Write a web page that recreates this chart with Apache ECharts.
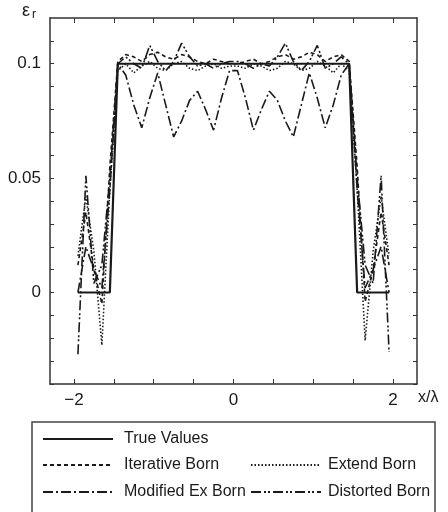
<!DOCTYPE html>
<html lang="en">
<head>
    <meta charset="UTF-8">
    <title>epsilon_r profile</title>
    <script type="text/javascript" src="https://cdn.jsdelivr.net/npm/echarts@6/dist/echarts.min.js"></script>
    <style>
        html, body { margin: 0; padding: 0; background: #fff; }
    </style>
</head>
<body>
<div id="container" style="height:512px;width:448px"></div>
<script>
    // sample positions x/lambda
    var xs = [-1.95, -1.85, -1.75, -1.65, -1.55, -1.45, -1.35, -1.25, -1.15, -1.05,
        -0.95, -0.85, -0.75, -0.65, -0.55, -0.45, -0.35, -0.25, -0.15, -0.05,
        0.05, 0.15, 0.25, 0.35, 0.45, 0.55, 0.65, 0.75, 0.85, 0.95,
        1.05, 1.15, 1.25, 1.35, 1.45, 1.55, 1.65, 1.75, 1.85, 1.95];

    var trueValues = [0, 0, 0, 0, 0, 0.1, 0.1, 0.1, 0.1, 0.1,
        0.1, 0.1, 0.1, 0.1, 0.1, 0.1, 0.1, 0.1, 0.1, 0.1,
        0.1, 0.1, 0.1, 0.1, 0.1, 0.1, 0.1, 0.1, 0.1, 0.1,
        0.1, 0.1, 0.1, 0.1, 0.1, 0, 0, 0, 0, 0];

    var iterativeBorn = [0.012, 0.035, 0.01, -0.005, 0.055, 0.101, 0.104, 0.103, 0.101, 0.104,
        0.105, 0.103, 0.102, 0.104, 0.103, 0.101, 0.1, 0.102, 0.101, 0.1,
        0.1, 0.101, 0.102, 0.1, 0.101, 0.103, 0.104, 0.102, 0.103, 0.105,
        0.104, 0.101, 0.103, 0.104, 0.101, 0.055, -0.004, 0.01, 0.035, 0.012];

    var extendBorn = [0.016, 0.042, 0.018, -0.023, 0.045, 0.097, 0.1, 0.096, 0.099, 0.101,
        0.098, 0.097, 0.1, 0.101, 0.098, 0.097, 0.099, 0.1, 0.098, 0.099,
        0.099, 0.098, 0.1, 0.099, 0.097, 0.098, 0.101, 0.1, 0.097, 0.098,
        0.101, 0.099, 0.096, 0.1, 0.097, 0.045, -0.021, 0.018, 0.042, 0.016];

    var modifiedExBorn = [0.0, 0.02, 0.01, 0.002, 0.045, 0.1, 0.095, 0.082, 0.072, 0.085,
        0.096, 0.082, 0.068, 0.075, 0.084, 0.088, 0.08, 0.071, 0.085, 0.097,
        0.097, 0.085, 0.071, 0.08, 0.088, 0.084, 0.075, 0.068, 0.082, 0.096,
        0.085, 0.072, 0.082, 0.095, 0.1, 0.045, 0.002, 0.01, 0.02, 0.0];

    var distortedBorn = [-0.027, 0.051, 0.004, 0.012, 0.05, 0.1, 0.103, 0.1, 0.098, 0.108,
        0.101, 0.097, 0.101, 0.109, 0.103, 0.099, 0.1, 0.098, 0.1, 0.101,
        0.101, 0.1, 0.098, 0.1, 0.099, 0.103, 0.109, 0.101, 0.097, 0.101,
        0.108, 0.098, 0.1, 0.103, 0.1, 0.05, 0.012, 0.004, 0.051, -0.026];

    var xTicks = [-2, -1.5, -1, -0.5, 0, 0.5, 1, 1.5, 2];
    var xLabels = [-2, 0, 2];
    var yTicks = [-0.04, -0.03, -0.02, -0.01, 0, 0.01, 0.02, 0.03, 0.04, 0.05,
        0.06, 0.07, 0.08, 0.09, 0.1, 0.11];
    var yLabels = [0, 0.05, 0.1];

    function pairs(ys) {
        var out = [];
        for (var i = 0; i < xs.length; i++) {
            out.push([xs[i], ys[i]]);
        }
        return out;
    }

    var ink = '#1a1a1a';
    var font = 'Liberation Sans, Arial, sans-serif';

    function minus(v) {
        return String(v).replace('-', '\u2212');
    }

    function xAxisOf(pos, showLabels) {
        return {
            type: 'value', position: pos, min: -2.3, max: 2.3,
            axisLine: {show: true, onZero: false, lineStyle: {color: '#333', width: 1.5}},
            axisTick: {show: true, inside: true, length: 5, customValues: xTicks, lineStyle: {color: '#333'}},
            axisLabel: {show: showLabels, customValues: xLabels, formatter: minus, margin: 8,
                color: ink, fontSize: 17, fontFamily: font},
            splitLine: {show: false}
        };
    }

    function yAxisOf(pos, showLabels) {
        return {
            type: 'value', position: pos, min: -0.04, max: 0.12,
            axisLine: {show: true, onZero: false, lineStyle: {color: '#333', width: 1.5}},
            axisTick: {show: true, inside: true, length: 4, customValues: yTicks, lineStyle: {color: '#333'}},
            axisLabel: {show: showLabels, customValues: yLabels, formatter: minus, margin: 9,
                color: ink, fontSize: 17, fontFamily: font},
            splitLine: {show: false}
        };
    }

    function lineSeries(name, ys, type, width) {
        return {
            name: name, type: 'line', data: pairs(ys),
            xAxisIndex: 0, yAxisIndex: 0,
            symbol: 'none', silent: true,
            itemStyle: {color: 'rgba(0,0,0,0)', borderWidth: 0},
            lineStyle: {color: ink, width: width, type: type}
        };
    }

    function legendAt(name, left, top, gap) {
        return {
            data: [name], left: left, top: top,
            itemWidth: 70, itemHeight: 10, selectedMode: false,
            itemStyle: {color: 'rgba(0,0,0,0)', borderWidth: 0, opacity: 0},
            textStyle: {color: ink, fontSize: 16, fontFamily: font, padding: [0, 0, 0, gap]}
        };
    }

    var chart = echarts.init(document.getElementById('container'));
    var option = {
        animation: false,
        backgroundColor: '#fff',
        grid: {left: 50, right: 31, top: 18, bottom: 128, outerBoundsMode: 'none'},
        xAxis: [xAxisOf('bottom', true), xAxisOf('top', false)],
        yAxis: [yAxisOf('left', true), yAxisOf('right', false)],
        legend: [
            legendAt('True Values', 37, 426, 6),
            legendAt('Iterative Born', 37, 452, 6),
            legendAt('Extend Born', 245, 452, 2),
            legendAt('Modified Ex Born', 37, 479, 6),
            legendAt('Distorted Born', 245, 479, 2)
        ],
        graphic: [
            {type: 'rect', shape: {x: 32, y: 422, width: 403, height: 100},
                style: {fill: 'none', stroke: '#444', lineWidth: 1.5}},
            {type: 'text', left: 22, top: 2,
                style: {text: '{a|\u03b5}{b|r}', rich: {
                    a: {fontSize: 18, fontFamily: font, fill: ink},
                    b: {fontSize: 12, fontFamily: font, fill: ink, padding: [8, 0, 0, 2]}
                }}},
            {type: 'text', left: 418, top: 390,
                style: {text: 'x/\u03bb', fontSize: 16, fontFamily: font, fill: ink}}
        ],
        series: [
            lineSeries('True Values', trueValues, 'solid', 2.2),
            lineSeries('Iterative Born', iterativeBorn, [4, 3], 1.6),
            lineSeries('Extend Born', extendBorn, [1.5, 2], 1.6),
            lineSeries('Modified Ex Born', modifiedExBorn, [10, 3, 2, 3], 1.6),
            lineSeries('Distorted Born', distortedBorn, [10, 3, 2, 2, 2, 3], 1.6)
        ]
    };
    chart.setOption(option);
</script>
</body>
</html>
